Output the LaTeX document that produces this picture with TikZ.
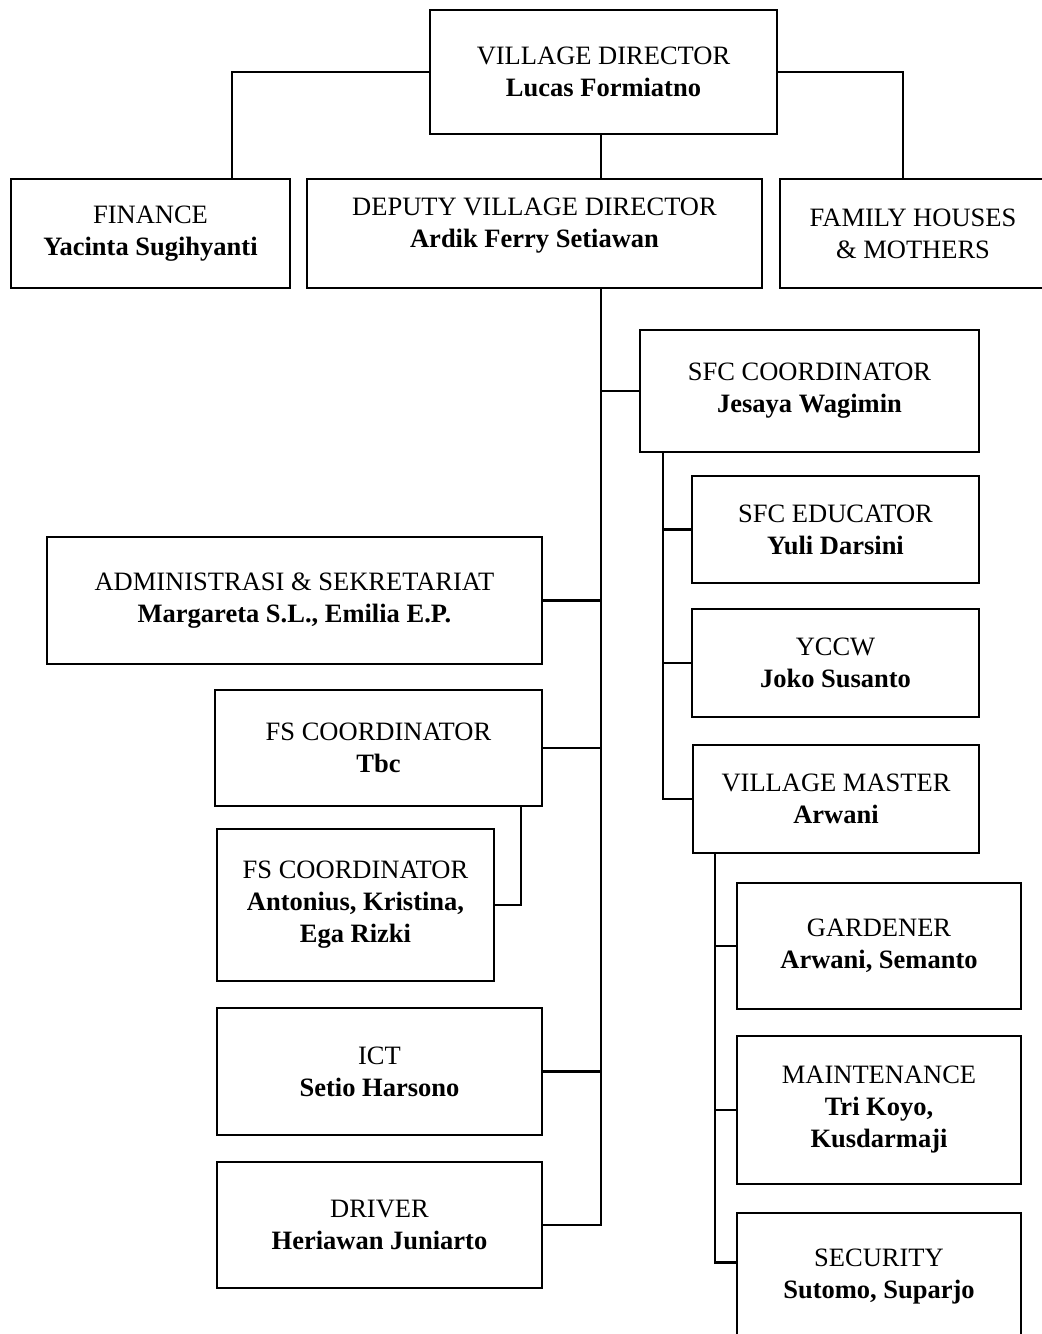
\documentclass[tikz,border=0pt]{standalone}
\usepackage{fontspec}
\setmainfont{Liberation Serif}

\tikzset{
    unit/.style={draw, line width=1.4pt, rectangle, align=center, inner sep=0pt,
        font=\fontsize{13.25}{16}\selectfont},
    link/.style={line width=1.4pt}
}

\begin{document}
\begin{tikzpicture}[x=0.5pt, y=-0.5pt]
        \useasboundingbox (0,0) rectangle (1042,1334);
        % top level
        \node[unit, minimum width=173.5pt, minimum height=62pt] (vd) at (603.5,72) {VILLAGE DIRECTOR\\\textbf{Lucas Formiatno}};
        \node[unit, minimum width=139.5pt, minimum height=54.5pt] (fin) at (150.5,233.5) {FINANCE\\\textbf{Yacinta Sugihyanti}};
        \node[unit, minimum width=227.5pt, minimum height=54.5pt, text depth=11pt] (dep) at (534.5,233.5) {DEPUTY VILLAGE DIRECTOR\\\textbf{Ardik Ferry Setiawan}};
        \node[unit, minimum width=133pt, minimum height=54.5pt] (fam) at (913,233.5) {FAMILY HOUSES\\\& MOTHERS};
        % right branch
        \node[unit, minimum width=169.5pt, minimum height=61pt] (sfc) at (809.5,391) {SFC COORDINATOR\\\textbf{Jesaya Wagimin}};
        \node[unit, minimum width=143.5pt, minimum height=53.5pt] (edu) at (835.5,529.5) {SFC EDUCATOR\\\textbf{Yuli Darsini}};
        \node[unit, minimum width=143.5pt, minimum height=54pt] (yccw) at (835.5,663) {YCCW\\\textbf{Joko Susanto}};
        \node[unit, minimum width=143pt, minimum height=54pt] (vm) at (836,799) {VILLAGE MASTER\\\textbf{Arwani}};
        \node[unit, minimum width=142pt, minimum height=63pt] (gard) at (879,946) {GARDENER\\\textbf{Arwani, Semanto}};
        \node[unit, minimum width=142pt, minimum height=74pt] (maint) at (879,1110) {MAINTENANCE\\\textbf{Tri Koyo,}\\\textbf{Kusdarmaji}};
        \node[unit, minimum width=142pt, minimum height=63.5pt] (sec) at (879,1276.5) {SECURITY\\\textbf{Sutomo, Suparjo}};
        % left branch
        \node[unit, minimum width=247.5pt, minimum height=63.5pt] (adm) at (294.5,600.5) {ADMINISTRASI \& SEKRETARIAT\\\textbf{Margareta S.L., Emilia E.P.}};
        \node[unit, minimum width=163.5pt, minimum height=58pt] (fs1) at (378.5,748) {FS COORDINATOR\\\textbf{Tbc}};
        \node[unit, minimum width=138.5pt, minimum height=76pt] (fs2) at (355.5,905) {FS COORDINATOR\\\textbf{Antonius, Kristina,}\\\textbf{Ega Rizki}};
        \node[unit, minimum width=162.5pt, minimum height=63.5pt] (ict) at (379.5,1071.5) {ICT\\\textbf{Setio Harsono}};
        \node[unit, minimum width=162.5pt, minimum height=63pt] (drv) at (379.5,1225) {DRIVER\\\textbf{Heriawan Juniarto}};
        % connectors
        \coordinate (busL) at (232,0);
        \coordinate (busR) at (903,0);
        \coordinate (trunk) at (601,288);
        \coordinate (sfcdown) at (663,452);
        \coordinate (vmdown) at (715,853);
        \coordinate (fsdown) at (521,806);
        \draw[link] (vd.west) -| (busL |- fin.north);
        \draw[link] (vd.east) -| (busR |- fam.north);
        \draw[link] (trunk |- vd.south) -- (trunk |- dep.north);
        \draw[link] (trunk) |- (drv.east);
        \foreach \n in {adm, fs1, ict}
            \draw[link] (\n.east) -- (\n.east -| trunk);
        \draw[link] (sfc.west) -- (sfc.west -| trunk);
        \draw[link] (sfcdown) |- (vm.west);
        \foreach \n in {edu, yccw}
            \draw[link] (\n.west) -- (\n.west -| sfcdown);
        \draw[link] (vmdown) |- ([yshift=7pt]sec.west);
        \foreach \n in {gard, maint}
            \draw[link] (\n.west) -- (\n.west -| vmdown);
        \draw[link] (fsdown) |- (fs2.east);
\end{tikzpicture}
\end{document}
